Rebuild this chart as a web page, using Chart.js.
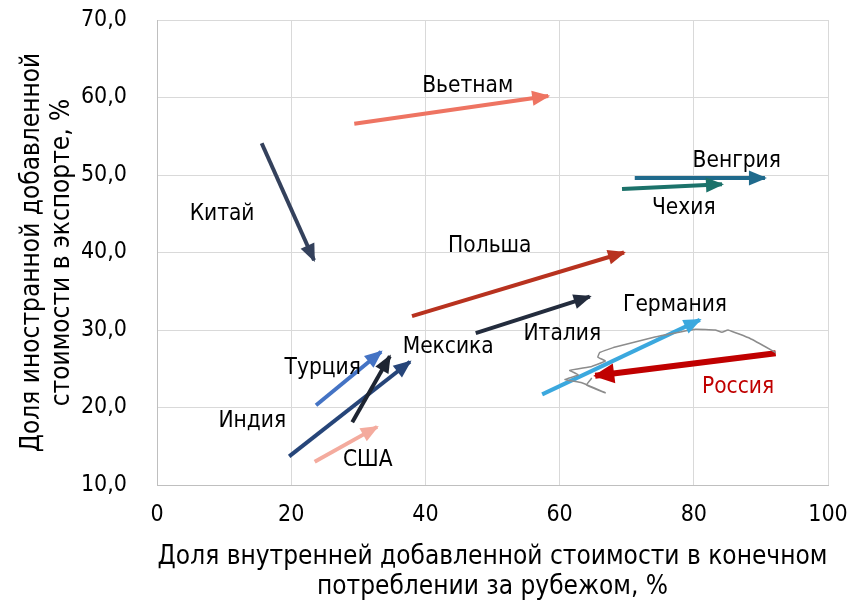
<!DOCTYPE html>
<html>
<head>
<meta charset="utf-8">
<script src="https://cdn.jsdelivr.net/npm/chart.js@4/dist/chart.umd.min.js"></script>
<style>
  html, body { margin: 0; padding: 0; background: #fff; }
  #wrap { width: 852px; height: 602px; }
</style>
</head>
<body>
<div id="wrap"><canvas id="vaChart"></canvas></div>
<script>
// countries, start (x0,y0) -> end (x1,y1)
const countries = ['Вьетнам', 'Китай', 'Венгрия', 'Чехия', 'Польша', 'Италия', 'Германия', 'Россия', 'Турция', 'Мексика', 'Индия', 'США'];
const startX = [29.4, 15.6, 71.2, 69.3, 38.0, 47.5, 57.4, 92.2, 23.7, 29.1, 19.7, 23.5];
const startY = [56.6, 54.1, 49.6, 48.2, 31.8, 29.6, 21.7, 27.0, 20.3, 18.1, 13.7, 13.0];
const endX   = [58.3, 23.4, 90.6, 84.2, 69.6, 64.5, 80.9, 65.3, 33.4, 34.7, 37.7, 32.8];
const endY   = [60.2, 39.0, 49.6, 48.8, 40.0, 34.3, 31.3, 24.1, 27.2, 26.6, 25.9, 17.5];
const colors = ['#ee7462', '#34415c', '#1f6a8c', '#1c726a', '#b8321f', '#232c3d', '#3ba8de', '#c00000', '#4473c4', '#1e2532', '#264579', '#f4ab9e'];

// label anchor points (data units)
const labelX = [46.3, 9.7, 86.4, 78.5, 49.6, 60.4, 77.2, 86.6, 24.7, 43.4, 14.2, 31.4];
const labelY = [61.4, 45.0, 51.8, 45.7, 40.8, 29.5, 33.2, 22.6, 25.1, 27.8, 18.3, 13.2];

// Russia yearly path (grey)
const rusPathX = [92.2, 88.4, 85.1, 84.2, 83.2, 80.2, 74.2, 68.3, 66.0, 65.7, 66.8, 64.8, 61.5, 62.8, 60.8, 63.3, 66.8, 64.0, 64.8];
const rusPathY = [27.1, 28.9, 30.0, 29.7, 30.0, 30.1, 29.1, 27.8, 27.1, 26.5, 26.0, 25.3, 24.8, 24.2, 23.6, 23.2, 21.9, 22.9, 23.8];

const FONT = '"DejaVu Sans Condensed", "DejaVu Sans", sans-serif';

const datasets = [{
    label: 'Россия (путь)',
    data: rusPathX.map((x, i) => ({ x: x, y: rusPathY[i] })),
    showLine: true,
    borderColor: '#8c8c8c',
    borderWidth: 1.5,
    pointRadius: 0,
    tension: 0.1,
    arrow: false
}];
countries.forEach((c, i) => {
    datasets.push({
        label: c,
        data: [{ x: startX[i], y: startY[i] }, { x: endX[i], y: endY[i] }],
        showLine: true,
        borderColor: colors[i],
        borderWidth: c === 'Россия' ? 6 : 4,
        pointRadius: 0,
        arrow: true
    });
});

const arrowPlugin = {
    id: 'arrows',
    afterDatasetsDraw(chart) {
        const ctx = chart.ctx;
        chart.data.datasets.forEach((ds, di) => {
            if (!ds.arrow) return;
            const pts = chart.getDatasetMeta(di).data;
            const a = pts[0], b = pts[1];
            const ang = Math.atan2(b.y - a.y, b.x - a.x);
            const big = ds.label === 'Россия';
            const len = big ? 19 : 16, half = big ? 10 : 7.5;
            ctx.save();
            ctx.translate(b.x, b.y);
            ctx.rotate(ang);
            ctx.beginPath();
            ctx.moveTo(2, 0);
            ctx.lineTo(-len, -half);
            ctx.lineTo(-len, half);
            ctx.closePath();
            ctx.fillStyle = ds.borderColor;
            ctx.fill();
            ctx.restore();
        });
        // country labels
        const xs = chart.scales.x, ys = chart.scales.y;
        ctx.save();
        ctx.font = '22.5px ' + FONT;
        ctx.textAlign = 'center';
        ctx.textBaseline = 'middle';
        countries.forEach((c, i) => {
            ctx.fillStyle = c === 'Россия' ? '#c00000' : '#000';
            ctx.fillText(c, xs.getPixelForValue(labelX[i]), ys.getPixelForValue(labelY[i]));
        });
        ctx.restore();
    }
};

new Chart(document.getElementById('vaChart').getContext('2d'), {
    type: 'scatter',
    data: { datasets: datasets },
    options: {
        responsive: true,
        maintainAspectRatio: false,
        animation: false,
        layout: { padding: { top: 20, right: 24, left: 0, bottom: 0 } },
        scales: {
            x: {
                type: 'linear',
                min: 0, max: 100,
                ticks: { stepSize: 20, color: '#000', font: { family: FONT, size: 23 }, padding: 16 },
                grid: { color: '#d9d9d9', lineWidth: 1, drawTicks: false },
                border: { color: '#bfbfbf' },
                title: {
                    display: true,
                    text: ['Доля внутренней добавленной стоимости в конечном', 'потреблении за рубежом, %'],
                    color: '#000',
                    font: { family: FONT, size: 26, lineHeight: 1.15 },
                    padding: { top: 4, bottom: 0 }
                },
                afterFit(s) { s.height = 117; s.paddingLeft = 0; s.paddingRight = 0; }
            },
            y: {
                type: 'linear',
                min: 10, max: 70,
                ticks: {
                    stepSize: 10, color: '#000', font: { family: FONT, size: 23 }, padding: 30,
                    callback: v => v.toFixed(1).replace('.', ',')
                },
                grid: { color: '#d9d9d9', lineWidth: 1, drawTicks: false },
                border: { color: '#bfbfbf' },
                title: {
                    display: true,
                    text: ['Доля иностранной добавленной', 'стоимости в экспорте, %'],
                    color: '#000',
                    font: { family: FONT, size: 26, lineHeight: 1.15 },
                    padding: { top: 17, bottom: 0 }
                },
                afterFit(s) { s.width = 157; s.paddingTop = 0; s.paddingBottom = 0; }
            }
        },
        plugins: {
            legend: { display: false },
            tooltip: { enabled: false }
        }
    },
    plugins: [arrowPlugin]
});
</script>
</body>
</html>
